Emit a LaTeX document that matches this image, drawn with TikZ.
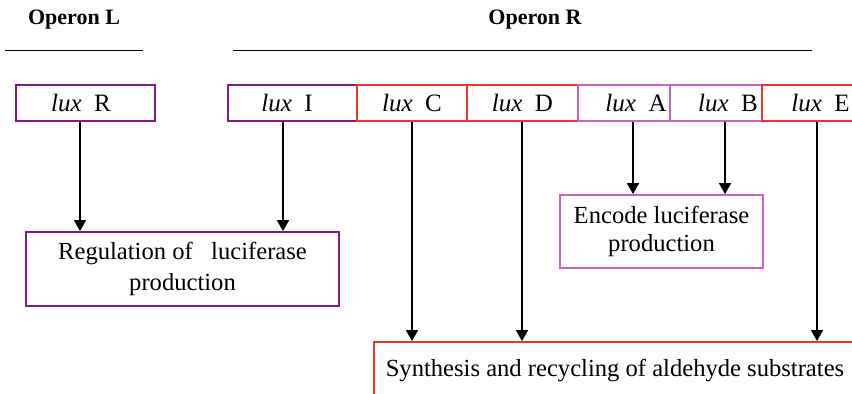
\documentclass[tikz,border=0pt]{standalone}
\usepackage{fontspec}
\setmainfont{Liberation Serif}
\usetikzlibrary{arrows.meta}
\definecolor{genepurple}{RGB}{135,25,135}
\definecolor{geneorchid}{RGB}{200,100,200}
\definecolor{genered}{RGB}{228,55,45}
\newcommand{\lux}[1]{\textit{lux}\enspace#1}
\begin{document}
\begin{tikzpicture}[x=0.5pt, y=-0.5pt,
		genebox/.style={draw, line width=0.9pt, minimum height=18pt, inner sep=0pt, font=\fontsize{12.5}{14}\selectfont},
		funcbox/.style={draw, line width=0.9pt, inner sep=0pt, align=center, font=\fontsize{12.3}{15.5}\selectfont},
		heading/.style={font=\fontsize{11}{13}\selectfont\bfseries},
		arrow/.style={-{Triangle[length=5.5pt, width=6pt]}, line width=0.75pt}
	]
		\useasboundingbox (0,0) rectangle (852,393);
		\clip (0,0) rectangle (852,393);

		\node[heading] (opL) at (74,20) {Operon L};
		\node[heading] (opR) at (535,20) {Operon R};
		\draw[line width=0.5pt] (5,50) -- (143,50);
		\draw[line width=0.5pt] (233,50) -- (812,50);

		\node[genebox, draw=genepurple, minimum width=69.5pt] (luxR) at (85.5,103) {\lux{R}\hspace*{4.5pt}};
		\node[genebox, draw=genepurple, minimum width=64.5pt] (luxI) at (292.5,103) {\lux{I}\hspace*{5.5pt}};
		\node[genebox, draw=genered, minimum width=55pt] (luxC) at (412,103) {\lux{C}};
		\node[genebox, draw=genered, minimum width=55.5pt] (luxD) at (522.5,103) {\lux{D}};
		\node[genebox, draw=geneorchid, minimum width=46pt] (luxA) at (624,103) {\hspace*{12pt}\lux{A}};
		\node[genebox, draw=geneorchid, minimum width=46pt] (luxB) at (716,103) {\hspace*{12pt}\lux{B}};
		\node[genebox, draw=genered, minimum width=49pt] (luxE) at (811,103) {\hspace*{9.5pt}\lux{E}};

		\node[funcbox, draw=genepurple, minimum width=156.5pt, minimum height=37pt] (reg) at (182.5,269) {Regulation of \ \ luciferase\\production};
		\node[funcbox, draw=geneorchid, minimum width=101.5pt, minimum height=36.5pt, font=\fontsize{12.3}{14}\selectfont] (enc) at (661.5,231.5) {Encode luciferase\\production};
		\node[funcbox, draw=genered, minimum width=241pt, minimum height=28pt] (syn) at (615,370) {Synthesis and recycling of aldehyde substrates};

		\foreach \src/\dst/\dx in {luxR/reg/-2.75, luxI/reg/-4.75, luxC/syn/0, luxD/syn/-0.25, luxA/enc/4.5, luxB/enc/4.5, luxE/syn/3}
			\draw[arrow] ([xshift=\dx pt]\src.south) -- ([xshift=\dx pt]\src.south |- \dst.north);
	\end{tikzpicture}
\end{document}
